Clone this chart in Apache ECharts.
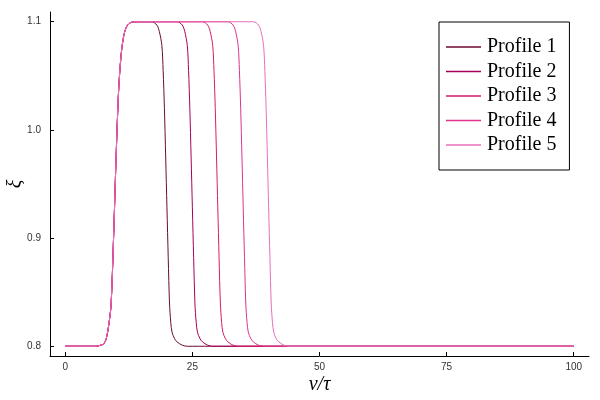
<!DOCTYPE html>
<html>
<head>
<meta charset="utf-8">
<script src="https://cdn.jsdelivr.net/npm/echarts@6/dist/echarts.min.js"></script>
<style>html,body{margin:0;padding:0;background:#fff}#c{width:600px;height:400px}</style>
</head>
<body>
<div id="c"></div>
<script>
const seriesNames = ['Profile 1', 'Profile 2', 'Profile 3', 'Profile 4', 'Profile 5'];
const xTicks = [0, 25, 50, 75, 100];
const yTicks = [0.8, 0.9, 1.0, 1.1];

const xs1 = [0, 6, 7, 7.5, 8, 8.5, 9, 9.5, 10, 10.5, 11, 11.5, 12, 12.5, 13, 14,
  17, 18, 18.5, 19, 19.25, 19.5, 19.75, 20, 20.25, 20.5, 20.75, 21, 21.5, 22, 23, 24, 100];
const ys1 = [0.8, 0.8, 0.801, 0.802, 0.806, 0.818, 0.838, 0.9, 0.975, 1.037, 1.07, 1.087, 1.095, 1.098, 1.0995, 1.1,
  1.1, 1.097, 1.091, 1.078, 1.055, 1.02, 0.975, 0.928, 0.882, 0.84, 0.822, 0.813, 0.807, 0.804, 0.801, 0.8, 0.8];

const xs2 = [0, 6, 7, 7.5, 8, 8.5, 9, 9.5, 10, 10.5, 11, 11.5, 12, 12.5, 13, 14,
  22, 23, 23.5, 24, 24.25, 24.5, 24.75, 25, 25.25, 25.5, 25.75, 26, 26.5, 27, 28, 29, 100];
const ys2 = [0.8, 0.8, 0.801, 0.802, 0.806, 0.818, 0.838, 0.9, 0.975, 1.037, 1.07, 1.087, 1.095, 1.098, 1.0995, 1.1,
  1.1, 1.097, 1.091, 1.078, 1.055, 1.02, 0.975, 0.928, 0.882, 0.84, 0.822, 0.813, 0.807, 0.804, 0.801, 0.8, 0.8];

const xs3 = [0, 6, 7, 7.5, 8, 8.5, 9, 9.5, 10, 10.5, 11, 11.5, 12, 12.5, 13, 14,
  27, 28, 28.5, 29, 29.25, 29.5, 29.75, 30, 30.25, 30.5, 30.75, 31, 31.5, 32, 33, 34, 100];
const ys3 = [0.8, 0.8, 0.801, 0.802, 0.806, 0.818, 0.838, 0.9, 0.975, 1.037, 1.07, 1.087, 1.095, 1.098, 1.0995, 1.1,
  1.1, 1.097, 1.091, 1.078, 1.055, 1.02, 0.975, 0.928, 0.882, 0.84, 0.822, 0.813, 0.807, 0.804, 0.801, 0.8, 0.8];

const xs4 = [0, 6, 7, 7.5, 8, 8.5, 9, 9.5, 10, 10.5, 11, 11.5, 12, 12.5, 13, 14,
  32, 33, 33.5, 34, 34.25, 34.5, 34.75, 35, 35.25, 35.5, 35.75, 36, 36.5, 37, 38, 39, 100];
const ys4 = [0.8, 0.8, 0.801, 0.802, 0.806, 0.818, 0.838, 0.9, 0.975, 1.037, 1.07, 1.087, 1.095, 1.098, 1.0995, 1.1,
  1.1, 1.097, 1.091, 1.078, 1.055, 1.02, 0.975, 0.928, 0.882, 0.84, 0.822, 0.813, 0.807, 0.804, 0.801, 0.8, 0.8];

const xs5 = [0, 6, 7, 7.5, 8, 8.5, 9, 9.5, 10, 10.5, 11, 11.5, 12, 12.5, 13, 14,
  37, 38, 38.5, 39, 39.25, 39.5, 39.75, 40, 40.25, 40.5, 40.75, 41, 41.5, 42, 43, 44, 100];
const ys5 = [0.8, 0.8, 0.801, 0.802, 0.806, 0.818, 0.838, 0.9, 0.975, 1.037, 1.07, 1.087, 1.095, 1.098, 1.0995, 1.1,
  1.1, 1.097, 1.091, 1.078, 1.055, 1.02, 0.975, 0.928, 0.882, 0.84, 0.822, 0.813, 0.807, 0.804, 0.801, 0.8, 0.8];

const colors = ['#6b0a33', '#a8005a', '#d81b6a', '#e0338c', '#e86fba'];

const allX = [xs1, xs2, xs3, xs4, xs5];
const allY = [ys1, ys2, ys3, ys4, ys5];

const series = seriesNames.map((name, i) => ({
  name: name,
  type: 'line',
  showSymbol: false,
  symbol: 'none',
  smooth: 0.3,
  lineStyle: { width: 1, color: colors[i] },
  itemStyle: { color: colors[i] },
  data: allX[i].map((x, j) => [x, allY[i][j]]),
  animation: false
}));

const chart = echarts.init(document.getElementById('c'), null, { renderer: 'canvas' });
chart.setOption({
  backgroundColor: '#fff',
  animation: false,
  grid: { left: 50, right: 11, top: 12, bottom: 44, containLabel: false, outerBoundsMode: 'none' },
  legend: {
    orient: 'vertical',
    left: 439,
    top: 22,
    padding: [15, 13, 15, 7],
    backgroundColor: '#fff',
    borderColor: '#000',
    borderWidth: 1,
    borderRadius: 0,
    itemWidth: 35,
    itemHeight: 1.5,
    itemGap: 4.5,
    icon: 'rect',
    textStyle: { fontFamily: 'Liberation Serif', fontSize: 20, color: '#000', lineHeight: 20, padding: [0, 0, 0, 1] },
    data: seriesNames
  },
  xAxis: {
    type: 'value',
    min: -3,
    max: 103,
    name: 'v/τ',
    nameLocation: 'middle',
    nameGap: 19,
    nameMoveOverlap: false,
    nameTextStyle: { fontFamily: 'Liberation Serif', fontStyle: 'italic', fontSize: 20, color: '#000', verticalAlign: 'top' },
    axisLine: { show: true, onZero: false, lineStyle: { color: '#000', width: 1 } },
    axisTick: { show: true, inside: true, length: 4, customValues: xTicks, lineStyle: { color: '#000' } },
    axisLabel: { customValues: xTicks, fontFamily: 'Liberation Sans', fontSize: 10, color: '#333', margin: 6 },
    splitLine: { show: false }
  },
  yAxis: {
    type: 'value',
    min: 0.791,
    max: 1.109,
    name: 'ξ',
    nameLocation: 'middle',
    nameGap: 24,
    nameRotate: 90,
    nameMoveOverlap: false,
    nameTextStyle: { fontFamily: 'Liberation Serif', fontStyle: 'italic', fontSize: 20, color: '#000' },
    axisLine: { show: true, onZero: false, lineStyle: { color: '#000', width: 1 } },
    axisTick: { show: true, inside: true, length: 4, customValues: yTicks, lineStyle: { color: '#000' } },
    axisLabel: { customValues: yTicks, fontFamily: 'Liberation Sans', fontSize: 10, color: '#333', margin: 9,
      formatter: v => v.toFixed(1) },
    splitLine: { show: false }
  },
  series: series
});
</script>
</body>
</html>
